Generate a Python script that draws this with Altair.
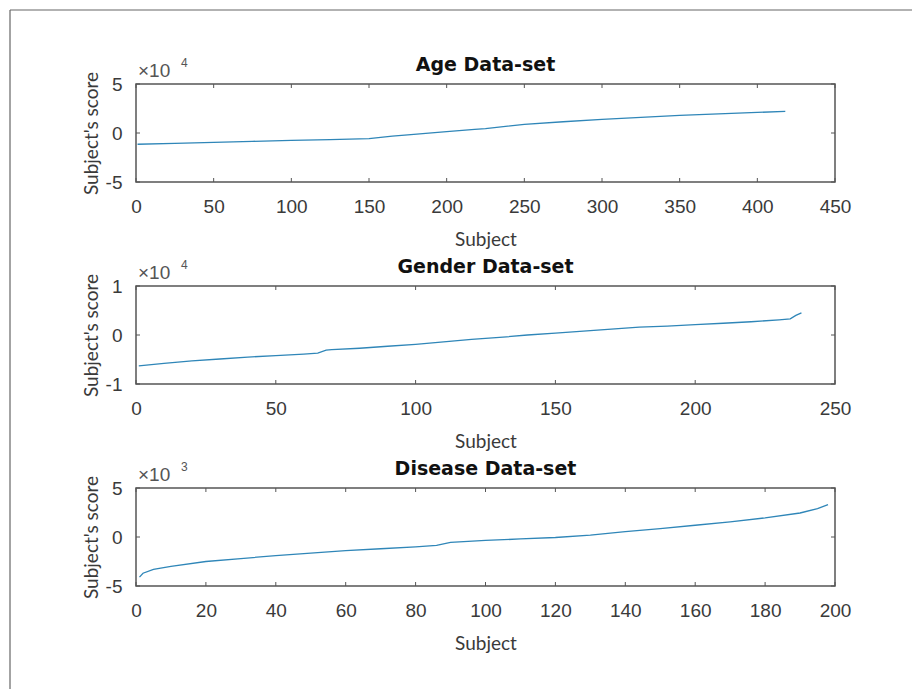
import altair as alt
import pandas as pd

# ---------------- data ----------------
age_subject = [1, 25, 50, 75, 100, 125, 150, 165, 175, 200, 218, 225, 250, 275, 300, 325, 350, 375, 400, 418]
age_score_e4 = [-1.15, -1.05, -0.95, -0.85, -0.75, -0.67, -0.57, -0.32, -0.2, 0.13, 0.38, 0.45, 0.88, 1.15, 1.4, 1.6, 1.8, 1.95, 2.1, 2.2]

gender_subject = [1, 10, 20, 30, 40, 50, 60, 65, 68, 70, 80, 90, 100, 110, 120, 130, 140, 150, 160,
                  170, 175, 180, 190, 200, 210, 220, 230, 234, 236, 238]
gender_score_e4 = [-0.63, -0.58, -0.53, -0.49, -0.45, -0.42, -0.39, -0.37, -0.31, -0.30, -0.27, -0.23, -0.19,
                   -0.14, -0.09, -0.05, 0.0, 0.04, 0.08, 0.12, 0.14, 0.16, 0.18, 0.21, 0.24, 0.27, 0.31, 0.33, 0.40, 0.45]

disease_subject = [1, 2, 5, 10, 20, 30, 40, 50, 60, 70, 80, 86, 90, 100, 110, 120, 130, 140, 150, 160,
                   170, 180, 190, 195, 198]
disease_score_e3 = [-4.1, -3.7, -3.3, -3.0, -2.5, -2.2, -1.9, -1.65, -1.4, -1.2, -1.0, -0.85, -0.55, -0.35,
                    -0.2, -0.05, 0.2, 0.55, 0.85, 1.2, 1.55, 1.95, 2.45, 2.9, 3.3]

titles = ["Age Data-set", "Gender Data-set", "Disease Data-set"]
exponents = ["4", "4", "3"]
x_max = [450, 250, 200]
x_ticks = [list(range(0, 451, 50)), list(range(0, 251, 50)), list(range(0, 201, 20))]
y_lims = [(-5, 5), (-1, 1), (-5, 5)]
y_ticks = [[-5, 0, 5], [-1, 0, 1], [-5, 0, 5]]

W, H = 699, 98
LINE = "#2f86b8"
BOX = "#555555"
TXT = "#3a3a3a"
LABEL_EXPR = "datum.value < 0 ? '-' + format(-datum.value, 'd') : format(datum.value, 'd')"


def panel(subjects, scores, title, exp, xmax, xt, ylim, yt, first=False):
    xs = alt.Scale(domain=[0, xmax], nice=False, zero=False)
    ys = alt.Scale(domain=list(ylim), nice=False, zero=False)
    xax = alt.Axis(values=xt, title="Subject", labelExpr=LABEL_EXPR, labelFlush=False, labelOverlap=False)
    yax = alt.Axis(values=yt, title="Subject's score", labelExpr=LABEL_EXPR, labelFlush=False,
                   labelOverlap=False)
    df = pd.DataFrame({"subject": subjects, "score": scores})
    line = alt.Chart(df).mark_line(color=LINE, strokeWidth=1.3).encode(
        x=alt.X("subject:Q", scale=xs, axis=xax),
        y=alt.Y("score:Q", scale=ys, axis=yax),
    )
    xdf = pd.DataFrame({"subject": xt})
    ydf = pd.DataFrame({"score": [float(v) for v in yt]})
    top_t = alt.Chart(xdf).mark_rule(color=BOX, strokeWidth=1).encode(
        x=alt.X("subject:Q", scale=xs, axis=xax), y=alt.value(0), y2=alt.value(4))
    bot_t = alt.Chart(xdf).mark_rule(color=BOX, strokeWidth=1).encode(
        x=alt.X("subject:Q", scale=xs, axis=xax), y=alt.value(H - 4), y2=alt.value(H))
    lef_t = alt.Chart(ydf).mark_rule(color=BOX, strokeWidth=1).encode(
        y=alt.Y("score:Q", scale=ys, axis=yax), x=alt.value(0), x2=alt.value(4))
    rig_t = alt.Chart(ydf).mark_rule(color=BOX, strokeWidth=1).encode(
        y=alt.Y("score:Q", scale=ys, axis=yax), x=alt.value(W - 4), x2=alt.value(W))
    ttl = alt.Chart(pd.DataFrame({"s": [title]})).mark_text(
        align="center", baseline="alphabetic", font="DejaVu Sans", fontSize=19, fontWeight="bold",
        color="#111111"
    ).encode(text="s:N", x=alt.value(W / 2), y=alt.value(-13))
    ten = alt.Chart(pd.DataFrame({"s": ["×10"]})).mark_text(
        align="left", baseline="middle", font="Liberation Sans", fontSize=19, color="#555555"
    ).encode(text="s:N", x=alt.value(2), y=alt.value(-13))
    sup = alt.Chart(pd.DataFrame({"s": [exp]})).mark_text(
        align="left", baseline="middle", font="Liberation Sans", fontSize=12, color="#555555"
    ).encode(text="s:N", x=alt.value(45), y=alt.value(-21))
    layers = [line, top_t, bot_t, lef_t, rig_t, ttl, ten, sup]
    if first:
        frame_top = alt.Chart(pd.DataFrame({"a": [0]})).mark_rule(color="#666666", strokeWidth=1.2).encode(
            x=alt.value(-126), x2=alt.value(776), y=alt.value(-74))
        frame_left = alt.Chart(pd.DataFrame({"a": [0]})).mark_rule(color="#666666", strokeWidth=1.2).encode(
            x=alt.value(-126), y=alt.value(-74), y2=alt.value(605))
        layers += [frame_top, frame_left]
    return alt.layer(*layers).properties(width=W, height=H)


series = [(age_subject, age_score_e4), (gender_subject, gender_score_e4), (disease_subject, disease_score_e3)]
panels = [panel(s[0], s[1], titles[i], exponents[i], x_max[i], x_ticks[i], y_lims[i], y_ticks[i], first=(i == 0))
          for i, s in enumerate(series)]

chart = alt.vconcat(*panels, spacing=104, bounds="flush").properties(
    padding={"left": 8, "top": 8, "right": 0, "bottom": 0},
    background="white",
).configure_view(
    stroke=BOX, strokeWidth=1.5
).configure_axis(
    domain=False, ticks=False, grid=False,
    labelFont="Liberation Sans", labelFontSize=19, labelColor=TXT,
    titleFont="Lato", titleFontSize=19, titleFontWeight="normal", titleColor=TXT,
).configure_axisX(
    labelPadding=15, titlePadding=14
).configure_axisY(
    labelPadding=14, titlePadding=4
)

chart.save("out.html", embed_options={"renderer": "svg", "actions": False})
